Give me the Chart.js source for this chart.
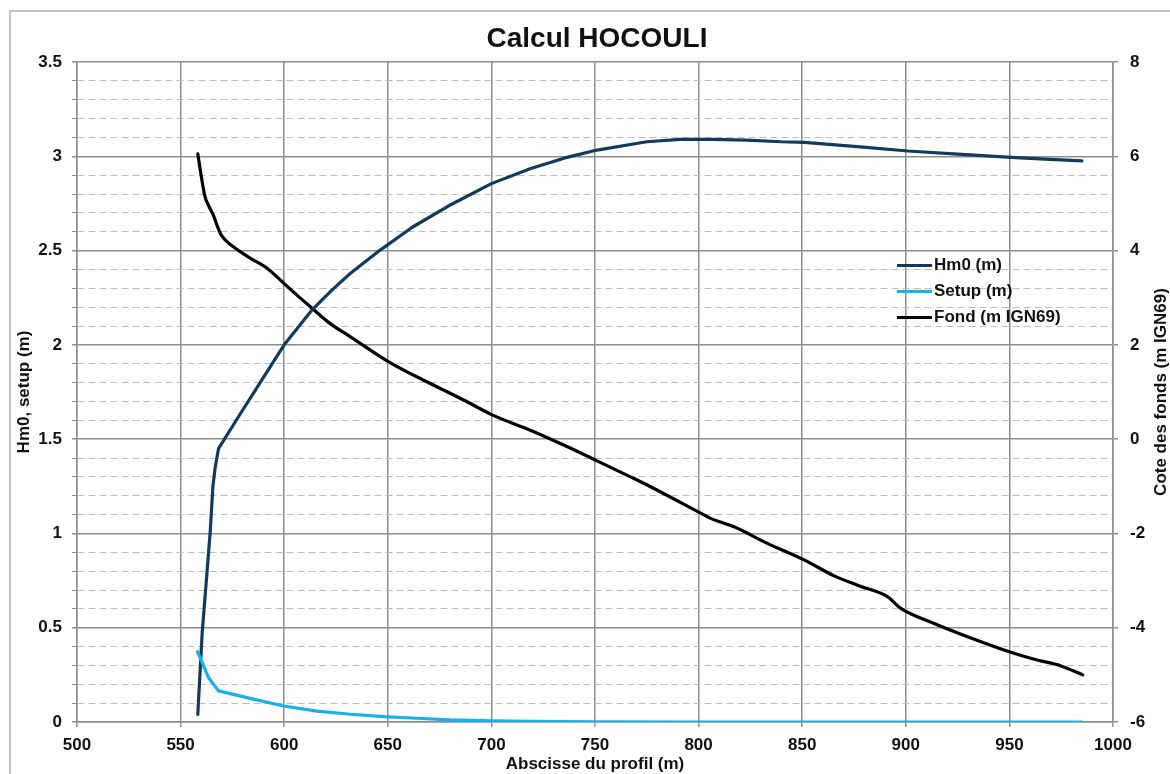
<!DOCTYPE html>
<html lang="fr">
<head>
    <meta charset="UTF-8">
    <title>Calcul HOCOULI</title>
    <script src="https://cdn.jsdelivr.net/npm/chart.js"></script>
    <style>
        html, body { margin: 0; padding: 0; background: #fff; overflow: hidden; }
        #wrap { position: relative; width: 1170px; height: 774px; }
        #cadre { position: absolute; left: 9px; top: 10px; width: 1200px; height: 800px;
                 border: 2px solid #c4c4c4; pointer-events: none; }
        #legende { position: absolute; left: 897px; top: 252px;
                   font: bold 17px "Liberation Sans", Arial, sans-serif; color: #111; }
        #legende div { height: 26px; display: flex; align-items: center; }
        #legende span.trait { display: inline-block; width: 35px; height: 3px; margin-right: 2px; }
    </style>
</head>
<body>
<div id="wrap">
    <canvas id="grafico"></canvas>
    <div id="cadre"></div>
    <div id="legende"></div>
</div>

<script>
// Hm0 (m) le long du profil
const hm0X = [558.3, 560.4, 562.5, 564.3, 565.6, 566.7, 568.3, 578, 589, 600, 613, 623, 632, 646,
              662, 679, 700, 719, 735, 751, 775, 791, 807, 823, 840, 851, 878, 901, 927, 951, 967, 985];
const hm0Y = [0.04, 0.47, 0.76, 1.01, 1.25, 1.35, 1.45, 1.62, 1.81, 2.0, 2.18, 2.29, 2.38, 2.5,
              2.625, 2.735, 2.855, 2.935, 2.99, 3.033, 3.077, 3.09, 3.09, 3.086, 3.077, 3.074, 3.05, 3.028, 3.01, 2.994, 2.985, 2.976];

// Setup (m)
const setupX = [558.2, 563.5, 568.3, 583.6, 599.7, 615.8, 631.9, 648, 664.1, 680.2, 700, 720, 750, 800, 850, 900, 950, 985];
const setupY = [0.373, 0.235, 0.165, 0.125, 0.085, 0.058, 0.041, 0.028, 0.02, 0.011, 0.006, 0.003, 0.001, 0, 0, 0, 0, 0];

// Cote des fonds (m IGN69), axe de droite
const fondX = [558.3, 560, 561.8, 563.8, 565.8, 567.8, 569.9, 575.5, 583.6, 591.6, 599.7, 606, 612.6, 622.2, 632,
               650.4, 670.5, 686.6, 700.6, 718.8, 734.9, 751, 767.1, 776.8, 801, 805.8, 817.1, 833.2, 850.9,
               865.4, 878, 891.1, 897.6, 913.7, 929.8, 950.7, 962, 974.9, 985.4];
const fondY = [6.05, 5.57, 5.14, 4.93, 4.75, 4.51, 4.31, 4.08, 3.84, 3.63, 3.31, 3.06, 2.81, 2.45, 2.17,
               1.64, 1.18, 0.83, 0.51, 0.19, -0.125, -0.46, -0.80, -1.01, -1.57, -1.68, -1.86, -2.21, -2.56,
               -2.90, -3.12, -3.34, -3.59, -3.91, -4.19, -4.52, -4.67, -4.81, -5.0];

const titre = 'Calcul HOCOULI';
const titreX = 'Abscisse du profil (m)';
const titreY = 'Hm0, setup (m)';
const titreY2 = 'Cote des fonds (m IGN69)';
const series = ['Hm0 (m)', 'Setup (m)', 'Fond (m IGN69)'];
const couleurs = ['#123a5c', '#17b1ec', '#000000'];

const police = '"Liberation Sans", Arial, sans-serif';
const grisMajeur = '#8e8e8e';
const grisMineur = '#bdbdbd';

function points(xs, ys) {
    return xs.map((x, i) => ({ x: x, y: ys[i] }));
}

function estMajeur(v) {
    return Math.abs(v * 2 - Math.round(v * 2)) < 1e-6;
}

// titre vertical de l'axe de droite, lu de bas en haut
const titreDroite = {
    id: 'titreDroite',
    afterDraw(chart) {
        const s = chart.scales.y1;
        const c = chart.ctx;
        c.save();
        c.translate(s.right - 9, (chart.chartArea.top + chart.chartArea.bottom) / 2);
        c.rotate(-Math.PI / 2);
        c.font = 'bold 17px ' + police;
        c.fillStyle = '#111';
        c.textAlign = 'center';
        c.textBaseline = 'middle';
        c.fillText(titreY2, 0, 0);
        c.restore();
    }
};

Chart.defaults.font.family = police;
Chart.defaults.color = '#111';

const ctx = document.getElementById('grafico').getContext('2d');
const chart = new Chart(ctx, {
    type: 'line',
    data: {
        datasets: [
            { label: series[0], data: points(hm0X, hm0Y), borderColor: couleurs[0], yAxisID: 'y', order: 1, tension: 0 },
            { label: series[1], data: points(setupX, setupY), borderColor: couleurs[1], yAxisID: 'y', order: 0, tension: 0 },
            { label: series[2], data: points(fondX, fondY), borderColor: couleurs[2], yAxisID: 'y1', order: 2,
              cubicInterpolationMode: 'monotone' }
        ]
    },
    options: {
        responsive: true,
        maintainAspectRatio: false,
        animation: false,
        layout: { padding: { left: 24, right: 0, top: 0, bottom: 0 } },
        elements: {
            line: { borderWidth: 3.2, fill: false, borderCapStyle: 'round', borderJoinStyle: 'round' },
            point: { radius: 0, hoverRadius: 0 }
        },
        plugins: {
            legend: { display: false },
            tooltip: { enabled: false },
            title: {
                display: true, text: titre, color: '#111',
                font: { size: 28, weight: 'bold' },
                padding: { top: 22, bottom: 6.4 }
            }
        },
        scales: {
            x: {
                type: 'linear', min: 500, max: 1000,
                ticks: { stepSize: 50, padding: 8, font: { size: 17, weight: 'bold' }, color: '#111',
                         callback: v => String(v) },
                grid: { color: grisMajeur, lineWidth: 1.5, tickLength: 5 },
                border: { color: grisMajeur, width: 1.5 },
                title: { display: true, text: titreX, font: { size: 17, weight: 'bold' }, color: '#111',
                         padding: { top: 0, bottom: -1 } },
                afterFit(s) { s.height = 52; }
            },
            y: {
                position: 'left', min: 0, max: 3.5,
                ticks: {
                    stepSize: 0.1, autoSkip: false, padding: 10,
                    font: { size: 17, weight: 'bold' }, color: '#111',
                    callback: v => estMajeur(v) ? String(Math.round(v * 10) / 10) : ''
                },
                grid: {
                    tickLength: 5,
                    color: c => (c.tick && !estMajeur(c.tick.value)) ? grisMineur : grisMajeur,
                    tickColor: grisMajeur,
                    lineWidth: c => (c.tick && !estMajeur(c.tick.value)) ? 1 : 1.5
                },
                border: {
                    color: grisMajeur, width: 1.5,
                    dash: c => (c.tick && !estMajeur(c.tick.value)) ? [7, 4] : []
                },
                title: { display: true, text: titreY, font: { size: 17, weight: 'bold' }, color: '#111',
                         padding: { top: -10, bottom: 0 } },
                afterFit(s) { s.width = 53; }
            },
            y1: {
                position: 'right', min: -6, max: 8,
                ticks: { stepSize: 2, padding: 12, font: { size: 17, weight: 'bold' }, color: '#111' },
                grid: { drawOnChartArea: false, tickLength: 5, color: grisMajeur, lineWidth: 1.5 },
                border: { color: grisMajeur, width: 1.5 },
                afterFit(s) { s.width = 57; }
            }
        }
    },
    plugins: [titreDroite]
});

// légende placée dans la zone de tracé
const leg = document.getElementById('legende');
chart.data.datasets.forEach(ds => {
    const ligne = document.createElement('div');
    const trait = document.createElement('span');
    trait.className = 'trait';
    trait.style.background = ds.borderColor;
    ligne.appendChild(trait);
    ligne.appendChild(document.createTextNode(ds.label));
    leg.appendChild(ligne);
});
</script>
</body>
</html>
